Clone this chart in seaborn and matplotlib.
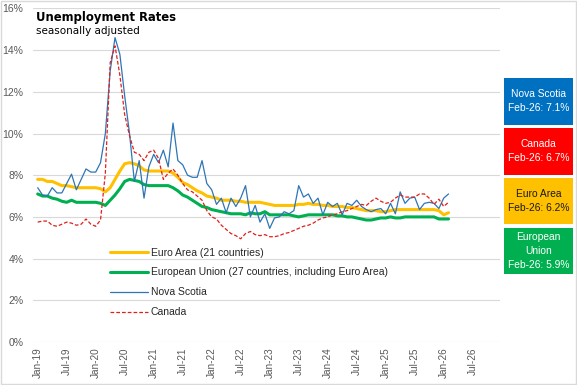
import matplotlib
matplotlib.use("Agg")
import matplotlib.pyplot as plt
import seaborn as sns
import pandas as pd
from matplotlib.patches import Rectangle

# tick labels every six months (Jan-19 .. Jul-26)
tick_labels = ["Jan-19", "Jul-19", "Jan-20", "Jul-20", "Jan-21", "Jul-21", "Jan-22", "Jul-22",
               "Jan-23", "Jul-23", "Jan-24", "Jul-24", "Jan-25", "Jul-25", "Jan-26", "Jul-26"]

# monthly unemployment rates (%), Jan-19 .. Feb-26
euro_area = [7.8, 7.8, 7.7, 7.7, 7.6, 7.5, 7.5, 7.45, 7.4, 7.4, 7.4, 7.4,
             7.4, 7.35, 7.2, 7.4, 7.8, 8.2, 8.55, 8.6, 8.55, 8.45, 8.25, 8.2,
             8.2, 8.2, 8.2, 8.2, 8.1, 7.9, 7.65, 7.55, 7.4, 7.25, 7.15, 7.0,
             6.95, 6.9, 6.8, 6.8, 6.8, 6.75, 6.75, 6.7, 6.7, 6.7, 6.7, 6.65,
             6.6, 6.55, 6.55, 6.55, 6.55, 6.55, 6.6, 6.6, 6.65, 6.6, 6.6, 6.55,
             6.55, 6.5, 6.5, 6.5, 6.45, 6.45, 6.4, 6.35, 6.3, 6.3, 6.3, 6.25,
             6.25, 6.3, 6.35, 6.35, 6.35, 6.35, 6.35, 6.35, 6.35, 6.35, 6.35, 6.3,
             6.1, 6.2]
european_union = [7.1, 7.0, 7.0, 6.9, 6.85, 6.75, 6.7, 6.8, 6.7, 6.7, 6.7, 6.7,
                  6.7, 6.65, 6.55, 6.8, 7.05, 7.35, 7.7, 7.8, 7.75, 7.7, 7.55, 7.5,
                  7.5, 7.5, 7.5, 7.5, 7.4, 7.25, 7.05, 6.95, 6.8, 6.65, 6.5, 6.45,
                  6.35, 6.3, 6.25, 6.2, 6.15, 6.15, 6.15, 6.1, 6.2, 6.15, 6.15, 6.25,
                  6.1, 6.1, 6.1, 6.1, 6.1, 6.05, 6.0, 6.05, 6.1, 6.1, 6.1, 6.1,
                  6.1, 6.1, 6.05, 6.05, 6.0, 6.0, 5.95, 5.9, 5.85, 5.85, 5.9, 5.95,
                  5.95, 6.0, 5.95, 5.95, 6.0, 6.0, 6.0, 6.0, 6.0, 6.0, 6.0, 5.9,
                  5.9, 5.9]
nova_scotia = [7.4, 7.05, 7.0, 7.4, 7.15, 7.15, 7.6, 8.05, 7.3, 7.8, 8.3, 8.15,
               8.15, 8.6, 10.0, 13.0, 14.6, 13.8, 11.8, 10.0, 7.7, 8.7, 6.9, 8.4,
               9.0, 8.6, 9.2, 8.4, 10.5, 8.7, 8.5, 8.0, 7.9, 7.9, 8.7, 7.6,
               7.3, 6.6, 6.9, 6.2, 6.9, 6.5, 6.9, 7.5, 6.0, 6.55, 5.75, 6.15,
               5.45, 5.95, 6.0, 6.25, 6.15, 6.3, 7.5, 6.95, 7.1, 6.65, 6.9, 6.1,
               6.7, 6.5, 6.65, 6.1, 6.65, 6.55, 6.8, 6.5, 6.35, 6.25, 6.35, 6.4,
               6.15, 6.65, 6.15, 7.2, 6.65, 6.9, 6.95, 6.35, 6.65, 6.7, 6.65, 6.4,
               6.9, 7.1]
canada = [5.75, 5.8, 5.8, 5.6, 5.55, 5.65, 5.75, 5.7, 5.6, 5.65, 5.9, 5.65,
          5.55, 5.85, 8.1, 13.4, 14.2, 12.8, 10.9, 9.9, 9.1, 9.0, 8.7, 9.1,
          9.2, 8.8, 7.8, 8.1, 8.3, 8.0, 7.6, 7.3, 7.2, 7.0, 6.8, 6.3,
          6.0, 5.9, 5.6, 5.4, 5.2, 5.1, 4.95, 5.2, 5.3, 5.15, 5.1, 5.15,
          5.05, 5.05, 5.1, 5.2, 5.25, 5.35, 5.45, 5.55, 5.6, 5.7, 5.85, 5.95,
          6.0, 6.1, 6.15, 6.25, 6.3, 6.4, 6.5, 6.6, 6.55, 6.75, 6.9, 6.75,
          6.65, 6.7, 6.9, 7.05, 6.95, 6.95, 6.95, 7.1, 7.1, 6.9, 6.6, 6.85,
          6.5, 6.7]

series_names = ["Euro Area (21 countries)",
                "European Union (27 countries, including Euro Area)",
                "Nova Scotia", "Canada"]
box_texts = ["Nova Scotia\nFeb-26: 7.1%", "Canada\nFeb-26: 6.7%",
             "Euro Area\nFeb-26: 6.2%", "European\nUnion\nFeb-26: 5.9%"]

df = pd.DataFrame({
    "month": range(len(canada)),
    series_names[0]: euro_area,
    series_names[1]: european_union,
    series_names[2]: nova_scotia,
    series_names[3]: canada,
})

sns.set_theme(style="white")
plt.rcParams["font.family"] = ["Liberation Sans", "DejaVu Sans"]

W, H = 577, 385
fig = plt.figure(figsize=(W / 100, H / 100), dpi=100)
fig.patch.set_facecolor("white")
ax = fig.add_axes([33 / W, 1 - 342 / H, 467 / W, 333.6 / H])

styles = [
    dict(color="#FFC000", linewidth=2.2),
    dict(color="#00B050", linewidth=2.2),
    dict(color="#2E75B6", linewidth=0.9),
    dict(color="#E0201B", linewidth=0.9, linestyle=(0, (3, 1.6))),
]
for name, st in zip(series_names, styles):
    sns.lineplot(data=df, x="month", y=name, ax=ax, label=name, **st)

ax.set_xlim(-0.97, 95.65)
ax.set_ylim(0, 16)
ax.set_xticks(range(0, 91, 6))
ax.set_xticklabels(tick_labels, rotation=90, fontsize=7.2, color="#595959")
ax.set_yticks(range(0, 17, 2))
ax.set_yticklabels([f"{v}%" for v in range(0, 17, 2)], fontsize=7.5, color="#595959")
ax.tick_params(axis="both", length=0)
ax.tick_params(axis="y", pad=7)
ax.tick_params(axis="x", pad=4)
ax.set_xlabel("")
ax.set_ylabel("")
ax.yaxis.grid(True, color="#d9d9d9", linewidth=0.8)
ax.set_axisbelow(True)
for s in ax.spines.values():
    s.set_visible(False)

ax.legend(loc="upper left", bbox_to_anchor=((110 - 33) / 467, (342 - 247.5) / 333.6),
          frameon=False, fontsize=7.5, handlelength=3.6, handletextpad=0.3,
          labelspacing=0.95, borderaxespad=0, borderpad=0)

fig.text(36 / W, 1 - 21 / H, "Unemployment Rates", fontsize=8.4, fontweight="bold",
         family="DejaVu Sans", color="black", va="baseline", ha="left")
fig.text(36 / W, 1 - 34 / H, "seasonally adjusted", fontsize=7.5,
         family="DejaVu Sans", color="black", va="baseline", ha="left")

# value boxes on the right
box_colors = ["#0070C0", "#FF0000", "#FFC000", "#00B050"]
box_text_colors = ["white", "white", "#1a1a1a", "white"]
box_tops = [78, 128, 177.5, 227.5]
for txt, c, tc, top in zip(box_texts, box_colors, box_text_colors, box_tops):
    x0, x1, y1 = 504, 573, top + 46.5
    fig.add_artist(Rectangle((x0 / W, 1 - y1 / H), (x1 - x0) / W, 46.5 / H,
                             transform=fig.transFigure, facecolor=c, edgecolor="none"))
    fig.text((x0 + x1) / 2 / W, 1 - (top + 23.2) / H, txt, fontsize=7.4, color=tc,
             ha="center", va="center", linespacing=1.5)

fig.add_artist(Rectangle((0.5 / W, 1.5 / H), (W - 1.5) / W, (H - 2.5) / H,
                         transform=fig.transFigure, fill=False,
                         edgecolor="#d9d9d9", linewidth=1))

fig.savefig("out.png", dpi=100)
